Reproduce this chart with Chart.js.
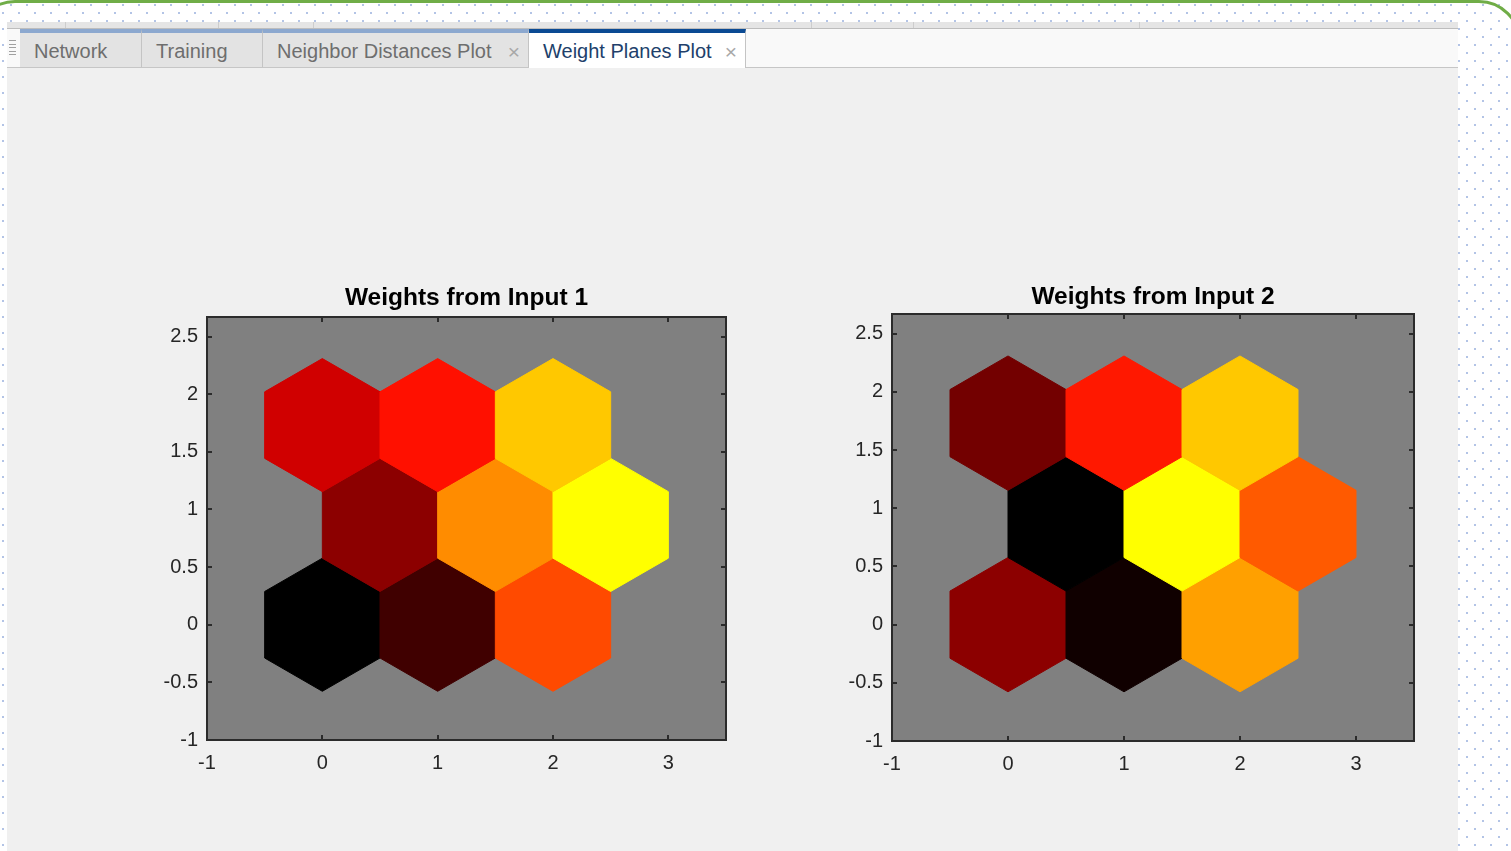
<!DOCTYPE html>
<html>
<head>
<meta charset="utf-8">
<title>Weight Planes Plot</title>
<script src="https://cdn.jsdelivr.net/npm/chart.js@4.4.1/dist/chart.umd.min.js"></script>
<style>
  html, body { margin: 0; padding: 0; }
  body {
    width: 1511px; height: 851px; overflow: hidden; position: relative;
    font-family: "Liberation Sans", Arial, sans-serif;
    background-color: #fff;
    background-image: url("data:image/svg+xml;utf8,<svg xmlns='http://www.w3.org/2000/svg' width='16' height='16'><rect x='10' y='4' width='2' height='2' fill='%23b3c4e6'/><rect x='2' y='12' width='2' height='2' fill='%23b3c4e6'/></svg>");
  }
  .frame {
    position: absolute; left: -27px; top: 0; width: 1548px; height: 1000px;
    box-sizing: border-box; border: 3px solid #70ad47; border-radius: 42px;
  }
  .panel { position: absolute; left: 7px; top: 22px; width: 1451px; height: 829px; background: #f0f0f0; }
  .strip { position: absolute; left: 7px; top: 22px; width: 1451px; height: 6px; background: #e5e5e5; border-bottom: 1px solid #bdbdbd; }
  .strip i { position: absolute; top: 0; width: 1px; height: 6px; background: #cdcdcd; }
  .tabbar { position: absolute; left: 7px; top: 29px; width: 1451px; height: 38px; background: #f9f9f9; border-bottom: 1px solid #c6c6c6; }
  .grip { position: absolute; left: 9px; width: 7px; height: 1px; background: #a0a0a0; }
  .tab {
    position: absolute; top: 29px; height: 38px; box-sizing: border-box;
    padding-left: 14px; line-height: 37px; font-size: 20px; white-space: nowrap;
    background: #e3e3e3; color: #6e6e6e;
    border-top: 4px solid #8ca8cf; border-right: 1px solid #c4c4c4;
  }
  .tab.active { background: #fff; color: #213f6b; border-top-color: #0b4a93; height: 39px; }
  .tab .x { position: absolute; right: 8px; top: 0; font-size: 21px; color: #a8a8a8; }
  canvas { position: absolute; }
</style>
</head>
<body>
<div class="frame"></div>
<div class="panel"></div>
<div class="strip"><i style="left:58px"></i><i style="left:211px"></i><i style="left:306px"></i><i style="left:804px"></i><i style="left:906px"></i><i style="left:1132px"></i></div>
<div class="tabbar"></div>
<div class="grip" style="top:40px"></div>
<div class="grip" style="top:44px"></div>
<div class="grip" style="top:47px"></div>
<div class="grip" style="top:51px"></div>
<div class="grip" style="top:54px"></div>
<div class="tab" style="left:20px;width:122px">Network</div>
<div class="tab" style="left:142px;width:121px">Training</div>
<div class="tab" style="left:263px;width:266px">Neighbor Distances Plot<span class="x">×</span></div>
<div class="tab active" style="left:529px;width:217px">Weight Planes Plot<span class="x">×</span></div>

<canvas id="plane1" width="606" height="497" style="left:130px;top:283px"></canvas>
<canvas id="plane2" width="609" height="499" style="left:815px;top:282px"></canvas>

<script>
// neuron positions of the 3x3 hexagonal SOM layer
const neuronX = [0, 1, 2, 0.5, 1.5, 2.5, 0, 1, 2];
const neuronY = [0, 0, 0, 0.866, 0.866, 0.866, 1.732, 1.732, 1.732];

// weight of each neuron, scaled 0 (darkest) .. 1 (brightest)
const weightsInput1 = [0, 0.125, 0.645, 0.275, 0.775, 1, 0.408, 0.531, 0.892];
const weightsInput2 = [0.275, 0.031, 0.814, 0, 1, 0.676, 0.225, 0.547, 0.892];

const planeTitles = ['Weights from Input 1', 'Weights from Input 2'];
const xTicks = [-1, 0, 1, 2, 3];
const yTicks = [-1, -0.5, 0, 0.5, 1, 1.5, 2, 2.5];
const xRange = [-1, 3.5];
const yRange = [-1, 2.67];

const FONT = '"Liberation Sans", Arial, sans-serif';
const HEX_R = 1 / Math.sqrt(3);
const hexCorners = [[0, 1], [0.5, 0.5], [0.5, -0.5], [0, -1], [-0.5, -0.5], [-0.5, 0.5]];

// black -> red -> yellow
function heat(v) {
  const r = Math.round(255 * Math.min(1, 2 * v));
  const g = Math.round(255 * Math.max(0, Math.min(1, 2 * v - 1)));
  return 'rgb(' + r + ',' + g + ',0)';
}

const hexPlanes = {
  id: 'hexPlanes',
  beforeDatasetsDraw(chart) {
    const { ctx, chartArea: a, scales: { x, y } } = chart;
    ctx.save();
    ctx.fillStyle = '#808080';
    ctx.fillRect(a.left, a.top, a.width, a.height);
    chart.data.datasets.forEach(ds => {
      ds.data.forEach(p => {
        ctx.beginPath();
        hexCorners.forEach(([dx, dy], i) => {
          const px = x.getPixelForValue(p.x + dx);
          const py = y.getPixelForValue(p.y + dy * HEX_R);
          if (i) ctx.lineTo(px, py); else ctx.moveTo(px, py);
        });
        ctx.closePath();
        ctx.fillStyle = ctx.strokeStyle = heat(p.w);
        ctx.lineWidth = 1;
        ctx.fill();
        ctx.stroke();
      });
    });
    ctx.restore();
  },
  afterDraw(chart) {
    const { ctx, chartArea: a, scales: { x, y } } = chart;
    const len = 5;
    ctx.save();
    ctx.strokeStyle = '#2b2b2b';
    ctx.lineWidth = 2;
    ctx.beginPath();
    x.ticks.forEach(t => {
      const px = Math.round(x.getPixelForValue(t.value));
      ctx.moveTo(px, a.bottom); ctx.lineTo(px, a.bottom - len);
      ctx.moveTo(px, a.top); ctx.lineTo(px, a.top + len);
    });
    y.ticks.forEach(t => {
      const py = Math.round(y.getPixelForValue(t.value));
      ctx.moveTo(a.left, py); ctx.lineTo(a.left + len, py);
      ctx.moveTo(a.right, py); ctx.lineTo(a.right - len, py);
    });
    ctx.stroke();
    ctx.strokeRect(a.left, a.top, a.width, a.height);
    ctx.restore();
  }
};

function axis(range, ticks, fit, pad) {
  return {
    type: 'linear',
    min: range[0],
    max: range[1],
    grid: { display: false, drawTicks: false },
    border: { display: false },
    afterBuildTicks: s => { s.ticks = ticks.map(value => ({ value })); },
    afterFit: fit,
    ticks: {
      padding: pad,
      autoSkip: false,
      maxRotation: 0,
      color: '#262626',
      font: { family: FONT, size: 20 },
      callback: v => String(v)
    }
  };
}

function makePlane(id, title, weights, titleGap) {
  const points = neuronX.map((x, i) => ({ x, y: neuronY[i], w: weights[i] }));
  return new Chart(document.getElementById(id), {
    type: 'scatter',
    data: { datasets: [{ data: points, pointRadius: 0, pointHoverRadius: 0 }] },
    options: {
      responsive: false,
      animation: false,
      devicePixelRatio: 1,
      events: [],
      layout: { padding: { right: 10 } },
      plugins: {
        legend: { display: false },
        tooltip: { enabled: false },
        title: {
          display: true,
          fullSize: false,
          text: title,
          color: '#000',
          font: { family: FONT, size: 24.5, weight: 'bold' },
          padding: { top: 1, bottom: titleGap }
        }
      },
      scales: {
        x: axis(xRange, xTicks, s => { s.height = 40; }, 11),
        y: axis(yRange, yTicks, s => { s.width = 77; }, 9)
      }
    },
    plugins: [hexPlanes]
  });
}

makePlane('plane1', planeTitles[0], weightsInput1, 3.6);
makePlane('plane2', planeTitles[1], weightsInput2, 1.6);
</script>
</body>
</html>
